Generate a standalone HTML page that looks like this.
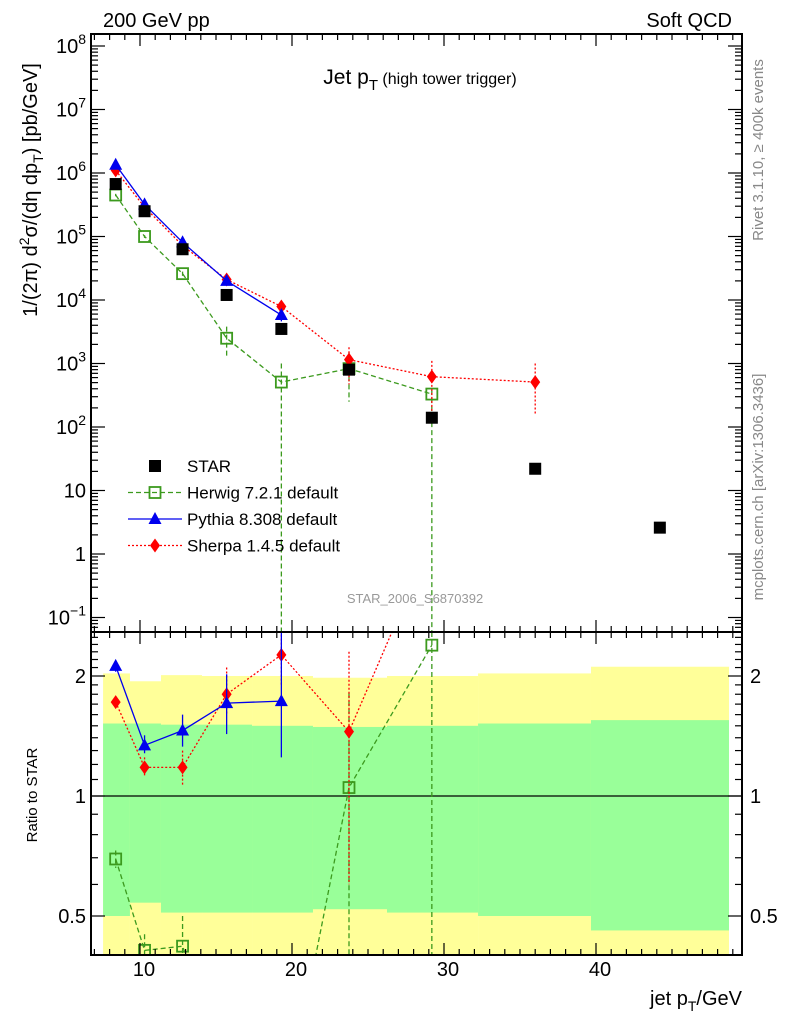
<!DOCTYPE html>
<html><head><meta charset="utf-8">
<style>
html,body{margin:0;padding:0;background:#fff;width:786px;height:1024px;overflow:hidden;}
svg{display:block;font-family:"Liberation Sans",sans-serif;}
</style></head>
<body>
<svg id="c" width="786" height="1024" viewBox="0 0 786 1024" xmlns="http://www.w3.org/2000/svg">
<defs>
<clipPath id="cm"><rect x="91" y="34" width="651" height="598"/></clipPath>
<clipPath id="cr"><rect x="91" y="632" width="651" height="323"/></clipPath>
</defs>
<g id="bands" clip-path="url(#cr)"></g>
<g id="main" clip-path="url(#cm)"></g>
<g id="ratio" clip-path="url(#cr)"></g>
<g id="axes"></g>
<text x="103" y="27" font-size="20">200 GeV pp</text>
<text x="732" y="27" font-size="20" text-anchor="end">Soft QCD</text>
<text x="420" y="84" font-size="21" text-anchor="middle">Jet p<tspan font-size="15" dy="6">T</tspan><tspan font-size="16" dy="-6"> (high tower trigger)</tspan></text>
<text x="415" y="603" font-size="13" fill="#999" text-anchor="middle">STAR_2006_S6870392</text>
<text transform="translate(763,150) rotate(-90)" font-size="15" fill="#888" text-anchor="middle">Rivet 3.1.10, ≥ 400k events</text>
<text transform="translate(763,487) rotate(-90)" font-size="15" fill="#888" text-anchor="middle">mcplots.cern.ch [arXiv:1306.3436]</text>
<text transform="translate(37,190) rotate(-90)" font-size="20" text-anchor="middle">1/(2π) d<tspan font-size="14" dy="-8">2</tspan><tspan dy="8">σ/(dη dp</tspan><tspan font-size="14" dy="6">T</tspan><tspan dy="-6">) [pb/GeV]</tspan></text>
<text transform="translate(37,795) rotate(-90)" font-size="15" text-anchor="middle">Ratio to STAR</text>
<text x="742" y="1005" font-size="20" text-anchor="end">jet p<tspan font-size="14" dy="6">T</tspan><tspan dy="-6">/GeV</tspan></text>
<g id="legend"></g>
</svg>
<script>
const xs = [8.4, 10.3, 12.8, 15.7, 19.3, 23.75, 29.2, 36.0, 44.2];
const starVals = [6.7e5, 2.5e5, 6.3e4, 1.2e4, 3.5e3, 800, 140, 22, 2.6];
const herwigX = [8.4, 10.3, 12.8, 15.7, 19.3, 23.75, 29.2];
const herwigVals = [4.5e5, 1.0e5, 2.6e4, 2.5e3, 510, 830, 330];
const herwigLo = [4.3e5, 9.5e4, 2.4e4, 1.3e3, 1e-3, 250, 1e-3];
const herwigHi = [4.7e5, 1.05e5, 2.8e4, 3.8e3, 1.0e3, 1.5e3, 380];
const pythiaX = [8.4, 10.3, 12.8, 15.7, 19.3];
const pythiaVals = [1.35e6, 3.2e5, 8.1e4, 2.0e4, 5.8e3];
const pythiaLo = [1.3e6, 3.1e5, 7.8e4, 1.9e4, 4.6e3];
const pythiaHi = [1.4e6, 3.3e5, 8.4e4, 2.1e4, 6.4e3];
const sherpaX = [8.4, 10.3, 12.8, 15.7, 19.3, 23.75, 29.2, 36.0];
const sherpaVals = [1.1e6, 2.9e5, 7.2e4, 2.1e4, 7.9e3, 1.15e3, 620, 510];
const sherpaLo = [1.0e6, 2.7e5, 6.6e4, 1.9e4, 6.5e3, 470, 180, 160];
const sherpaHi = [1.2e6, 3.1e5, 7.8e4, 2.3e4, 9.8e3, 1.8e3, 1.1e3, 1.0e3];
// ratio panel
const herwigRatio = [0.695, 0.41, 0.42, 0.21, 0.146, 1.05, 2.39];
const herwigRLo = [0.66, 0.3, 0.3, 0.1, 0.05, 0.3, 0.3];
const herwigRHi = [0.73, 0.45, 0.5, 0.3, 0.3, 1.81, 2.7];
const pythiaRatio = [2.12, 1.34, 1.46, 1.71, 1.73];
const pythiaRLo = [2.05, 1.28, 1.33, 1.43, 1.25];
const pythiaRHi = [2.18, 1.42, 1.60, 2.02, 2.6];
const sherpaRatio = [1.72, 1.18, 1.18, 1.80, 2.26, 1.45, 4.4, 23];
const sherpaRLo = [1.68, 1.12, 1.06, 1.6, 1.9, 0.6, 3, 10];
const sherpaRHi = [1.78, 1.25, 1.30, 2.1, 2.6, 2.3, 6, 40];
const bandEdges = [7.57, 9.34, 11.38, 14.08, 17.37, 21.38, 26.25, 32.24, 39.67, 48.75];
const yellowTop = [2.03, 1.94, 2.01, 2.0, 2.0, 1.98, 2.0, 2.03, 2.11];
const greenTop = [1.52, 1.52, 1.51, 1.51, 1.50, 1.49, 1.50, 1.52, 1.55];
const greenBot = [0.50, 0.54, 0.51, 0.51, 0.51, 0.52, 0.51, 0.50, 0.46];
const yellowBot = [0.3, 0.3, 0.3, 0.3, 0.3, 0.3, 0.3, 0.3, 0.3];
const xTicks = [10, 20, 30, 40];
const yTickExp = [-1, 0, 1, 2, 3, 4, 5, 6, 7, 8];
const ratioTicks = [0.5, 1, 2];

const NS = "http://www.w3.org/2000/svg";
const L = 91, R = 742, MT = 34, MB = 632, RT = 632, RB = 955;
const X = v => 140 + (v - 10) * 15.2;
const Y = v => 173 - (Math.log10(v) - 6) * 63.5;
const YR = v => 796 - Math.log2(v) * 120;
function mk(tag, attrs, parent){const e=document.createElementNS(NS,tag);for(const k in attrs)e.setAttribute(k,attrs[k]);parent.appendChild(e);return e;}
const gM = document.getElementById('main'), gR = document.getElementById('ratio'), gB = document.getElementById('bands'), gA = document.getElementById('axes'), gL = document.getElementById('legend');

for (let i = 0; i < yellowTop.length; i++) {
  const x0 = X(bandEdges[i]), x1 = X(bandEdges[i+1]);
  let r = mk('rect', {x:x0, y:YR(yellowTop[i]), width:x1-x0, height:YR(yellowBot[i])-YR(yellowTop[i]), fill:'#ffff99'}, gB);
  
  
  r = mk('rect', {x:x0, y:YR(greenTop[i]), width:x1-x0, height:YR(greenBot[i])-YR(greenTop[i]), fill:'#99ff99'}, gB);
  
  
}
let one = mk('line', {x1:L, x2:R, y1:YR(1), y2:YR(1), stroke:'#000', 'stroke-width':1.3}, gR);



function marker(kind, cx, cy, color, parent, name){
  let e;
  if (kind === 'fsq') e = mk('rect', {x:cx-6, y:cy-6, width:12, height:12, fill:color}, parent);
  else if (kind === 'osq') e = mk('rect', {x:cx-5.5, y:cy-5.5, width:11, height:11, fill:'none', stroke:color, 'stroke-width':1.8}, parent);
  else if (kind === 'tri') e = mk('polygon', {points:`${cx},${cy-7} ${cx-6.5},${cy+5} ${cx+6.5},${cy+5}`, fill:color}, parent);
  else e = mk('polygon', {points:`${cx},${cy-7} ${cx+5},${cy} ${cx},${cy+7} ${cx-5},${cy}`, fill:color}, parent);
  
  
}
function series(parent, xv, vals, lo, hi, yf, color, dash, kind, name){
  if (dash !== null) {
    const pl = mk('polyline', {points: xv.map((x,i)=>X(x)+','+yf(vals[i])).join(' '), fill:'none', stroke:color, 'stroke-width':1.3, 'stroke-dasharray':dash}, parent);
    
    
  }
  xv.forEach((x,i)=>{
    if (lo) {
      const eb = mk('line', {x1:X(x), x2:X(x), y1:yf(hi[i]), y2:yf(lo[i]), stroke:color, 'stroke-width':1.3, 'stroke-dasharray':dash||'none'}, parent);
      
      
    }
    marker(kind, X(x), yf(vals[i]), color, parent, name + '-point');
  });
}
const GREEN = '#3c9a1e', BLUE = '#0000ee', RED = '#ff0000';
series(gM, herwigX, herwigVals, herwigLo, herwigHi, Y, GREEN, '5,3', 'osq', 'herwig');
series(gM, sherpaX, sherpaVals, sherpaLo, sherpaHi, Y, RED, '2,2', 'dia', 'sherpa');
series(gM, pythiaX, pythiaVals, pythiaLo, pythiaHi, Y, BLUE, '', 'tri', 'pythia');
series(gM, xs, starVals, null, null, Y, '#000', null, 'fsq', 'star');
series(gR, herwigX, herwigRatio, herwigRLo, herwigRHi, YR, GREEN, '5,3', 'osq', 'herwig-ratio');
series(gR, sherpaX, sherpaRatio, sherpaRLo, sherpaRHi, YR, RED, '2,2', 'dia', 'sherpa-ratio');
series(gR, pythiaX, pythiaRatio, pythiaRLo, pythiaRHi, YR, BLUE, '', 'tri', 'pythia-ratio');

[[MT,MB],[RT,RB]].forEach(([t,b],k)=>{
  const f = mk('rect', {x:L, y:t, width:R-L, height:b-t, fill:'none', stroke:'#000', 'stroke-width':2}, gA);
  
  
});
function tick(x1,y1,x2,y2){mk('line',{x1,y1,x2,y2,stroke:'#000','stroke-width':1.2},gA);}
for (let v = 7; v <= 49; v++) {
  const len = v % 10 === 0 ? 12 : 6, px = X(v);
  tick(px, MT, px, MT+len); tick(px, MB, px, MB-len);
  tick(px, RT, px, RT+len); tick(px, RB, px, RB-len);
}
xTicks.forEach(v=>{
  const t = mk('text', {x:X(v)+4, y:976, 'font-size':20, 'text-anchor':'middle'}, gA);
  t.textContent = v;
  
  
});
for (let e = -2; e <= 8; e++) for (let m = 1; m <= 9; m++) {
  const py = Y(m * Math.pow(10, e));
  if (py < MT || py > MB) continue;
  const len = m === 1 ? 14 : 7;
  tick(L, py, L+len, py); tick(R, py, R-len, py);
}
yTickExp.forEach(e=>{
  const t = mk('text', {x:86, y:Y(Math.pow(10,e))+7, 'font-size':20, 'text-anchor':'end'}, gA);
  
  
  if (e === 0) t.textContent = '1';
  else if (e === 1) t.textContent = '10';
  else { t.textContent = '10'; const s = document.createElementNS(NS,'tspan'); s.setAttribute('font-size',14); s.setAttribute('dy',-9); s.textContent = e < 0 ? '\u2212' + (-e) : e; t.appendChild(s); }
});
for (let v = 0.4; v <= 2.6; v += 0.1) {
  const py = YR(v); if (py < RT || py > RB) continue;
  const major = ratioTicks.some(r=>Math.abs(r-v)<1e-6);
  const len = major ? 14 : 7;
  tick(L, py, L+len, py); tick(R, py, R-len, py);
}
ratioTicks.forEach(v=>{
  [[86,'end'],[750,'start']].forEach(([x,a])=>{
    const t = mk('text', {x:x, y:YR(v)+7, 'font-size':20, 'text-anchor':a}, gA);
    t.textContent = v;
    
    
  });
});
const legNames = ['STAR', 'Herwig 7.2.1 default', 'Pythia 8.308 default', 'Sherpa 1.4.5 default'];
const legKinds = ['fsq', 'osq', 'tri', 'dia'];
const legColors = ['#000', GREEN, BLUE, RED];
const legDash = [null, '5,3', '', '2,2'];
legNames.forEach((n,i)=>{
  const y = 466 + i * 26.5;
  if (legDash[i] !== null) mk('line', {x1:128, x2:182, y1:y, y2:y, stroke:legColors[i], 'stroke-width':1.3, 'stroke-dasharray':legDash[i]}, gL);
  marker(legKinds[i], 155, y, legColors[i], gL, 'legend-marker');
  const t = mk('text', {x:187, y:y+6, 'font-size':17}, gL);
  t.textContent = n;
  
  
});
</script>
</body></html>
